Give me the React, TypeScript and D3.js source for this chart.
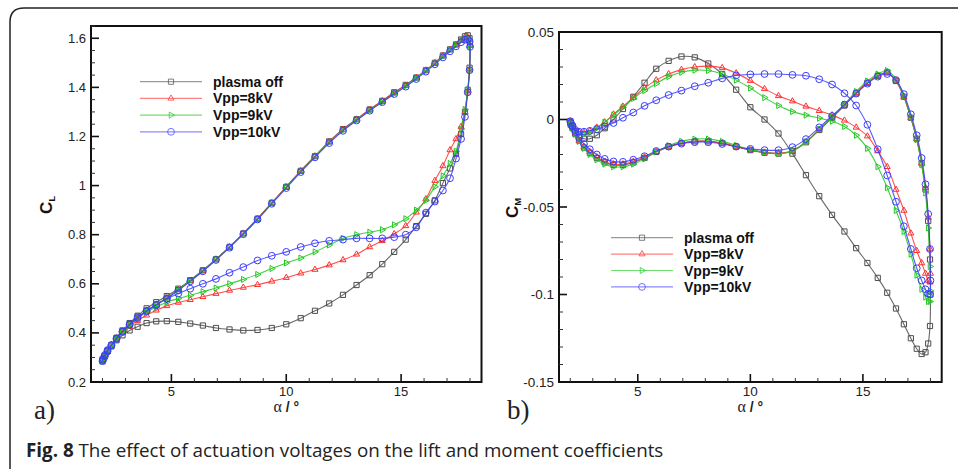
import React from "react";
import * as d3 from "d3";

// ---------- data ----------
const ALPHA_UP = [2.00, 2.02, 2.10, 2.22, 2.39, 2.61, 2.87, 3.18, 3.53, 3.92, 4.34, 4.80, 5.30, 5.82, 6.37, 6.94, 7.53, 8.13, 8.75, 9.37, 10.00, 10.63, 11.25, 11.87, 12.47, 13.06, 13.63, 14.18, 14.70, 15.20, 15.66, 16.08, 16.47, 16.82, 17.13, 17.39, 17.61, 17.78, 17.90, 17.98, 18.00];
const ALPHA_DOWN = [17.98, 17.90, 17.78, 17.61, 17.39, 17.13, 16.82, 16.47, 16.08, 15.66, 15.20, 14.70, 14.18, 13.63, 13.06, 12.47, 11.87, 11.25, 10.63, 10.00, 9.37, 8.75, 8.13, 7.53, 6.94, 6.37, 5.82, 5.30, 4.80, 4.34, 3.92, 3.53, 3.18, 2.87, 2.61, 2.39, 2.22, 2.10, 2.02];

// Lift coefficient
const CL_UP_OFF = [0.285, 0.29, 0.305, 0.325, 0.35, 0.38, 0.41, 0.44, 0.47, 0.50, 0.525, 0.55, 0.58, 0.615, 0.655, 0.70, 0.75, 0.805, 0.865, 0.93, 0.995, 1.06, 1.12, 1.18, 1.23, 1.27, 1.31, 1.345, 1.38, 1.41, 1.44, 1.47, 1.50, 1.53, 1.555, 1.575, 1.595, 1.608, 1.612, 1.60, 1.575];
const CL_DOWN_OFF = [1.48, 1.39, 1.30, 1.21, 1.13, 1.07, 1.01, 0.94, 0.885, 0.835, 0.78, 0.73, 0.68, 0.635, 0.595, 0.555, 0.52, 0.49, 0.46, 0.435, 0.42, 0.412, 0.41, 0.414, 0.42, 0.43, 0.438, 0.445, 0.448, 0.447, 0.44, 0.425, 0.41, 0.39, 0.37, 0.345, 0.325, 0.305, 0.29];
const CL_UP_8 = [0.285, 0.29, 0.305, 0.325, 0.35, 0.378, 0.405, 0.435, 0.462, 0.49, 0.515, 0.542, 0.575, 0.612, 0.653, 0.70, 0.75, 0.805, 0.866, 0.93, 0.995, 1.06, 1.12, 1.178, 1.228, 1.27, 1.31, 1.345, 1.378, 1.408, 1.44, 1.47, 1.50, 1.528, 1.553, 1.573, 1.59, 1.602, 1.605, 1.595, 1.57];
const CL_DOWN_8 = [1.47, 1.38, 1.30, 1.24, 1.19, 1.145, 1.08, 1.02, 0.945, 0.891, 0.836, 0.803, 0.775, 0.75, 0.72, 0.697, 0.676, 0.658, 0.643, 0.625, 0.61, 0.596, 0.585, 0.573, 0.56, 0.547, 0.535, 0.524, 0.51, 0.492, 0.472, 0.45, 0.425, 0.40, 0.375, 0.35, 0.33, 0.31, 0.295];
const CL_UP_9 = [0.285, 0.29, 0.305, 0.325, 0.35, 0.378, 0.405, 0.435, 0.462, 0.49, 0.515, 0.543, 0.576, 0.613, 0.654, 0.70, 0.75, 0.804, 0.864, 0.928, 0.993, 1.058, 1.118, 1.176, 1.225, 1.267, 1.306, 1.34, 1.374, 1.405, 1.437, 1.468, 1.498, 1.527, 1.552, 1.572, 1.59, 1.60, 1.603, 1.594, 1.57];
const CL_DOWN_9 = [1.47, 1.39, 1.31, 1.23, 1.14, 1.09, 1.04, 0.995, 0.94, 0.90, 0.865, 0.84, 0.82, 0.81, 0.80, 0.785, 0.758, 0.73, 0.705, 0.685, 0.662, 0.638, 0.618, 0.60, 0.583, 0.568, 0.553, 0.54, 0.525, 0.505, 0.485, 0.46, 0.43, 0.405, 0.375, 0.35, 0.33, 0.31, 0.295];
const CL_UP_10 = [0.285, 0.29, 0.305, 0.325, 0.35, 0.378, 0.405, 0.433, 0.46, 0.488, 0.513, 0.54, 0.573, 0.61, 0.651, 0.697, 0.747, 0.802, 0.862, 0.926, 0.99, 1.055, 1.115, 1.173, 1.223, 1.265, 1.305, 1.34, 1.373, 1.403, 1.434, 1.464, 1.494, 1.522, 1.547, 1.567, 1.584, 1.594, 1.597, 1.588, 1.565];
const CL_DOWN_10 = [1.47, 1.38, 1.28, 1.19, 1.11, 1.03, 0.98, 0.935, 0.89, 0.83, 0.80, 0.79, 0.785, 0.785, 0.785, 0.78, 0.775, 0.765, 0.75, 0.73, 0.714, 0.695, 0.668, 0.645, 0.62, 0.60, 0.58, 0.56, 0.538, 0.515, 0.49, 0.465, 0.435, 0.405, 0.375, 0.35, 0.33, 0.31, 0.295];

// Moment coefficient
const CM_UP_OFF = [-0.001, -0.002, -0.004, -0.008, -0.012, -0.016, -0.019, -0.022, -0.0245, -0.026, -0.026, -0.0245, -0.022, -0.0185, -0.0155, -0.0135, -0.0125, -0.0125, -0.0135, -0.0155, -0.0175, -0.019, -0.0195, -0.018, -0.013, -0.006, 0.001, 0.008, 0.015, 0.021, 0.025, 0.027, 0.022, 0.013, 0.001, -0.011, -0.025, -0.040, -0.058, -0.080, -0.100];
const CM_DOWN_OFF = [-0.118, -0.128, -0.133, -0.134, -0.131, -0.125, -0.117, -0.108, -0.099, -0.0905, -0.082, -0.0735, -0.064, -0.0545, -0.0438, -0.0318, -0.0195, -0.008, 0.0, 0.007, 0.017, 0.026, 0.032, 0.0355, 0.036, 0.0335, 0.029, 0.021, 0.013, 0.006, 0.0, -0.005, -0.009, -0.011, -0.011, -0.010, -0.008, -0.005, -0.003];
const CM_UP_8 = [-0.001, -0.002, -0.004, -0.008, -0.012, -0.0155, -0.0185, -0.0215, -0.024, -0.0255, -0.0255, -0.024, -0.0215, -0.0185, -0.0155, -0.0135, -0.0125, -0.0125, -0.0135, -0.0155, -0.0175, -0.0188, -0.0192, -0.0178, -0.0128, -0.0058, 0.0012, 0.0082, 0.0152, 0.021, 0.025, 0.0265, 0.022, 0.013, 0.001, -0.011, -0.025, -0.039, -0.056, -0.074, -0.088];
const CM_DOWN_8 = [-0.093, -0.092, -0.088, -0.082, -0.075, -0.065, -0.052, -0.040, -0.027, -0.018, -0.0095, -0.0045, -0.0005, 0.0025, 0.005, 0.0075, 0.0105, 0.0135, 0.0175, 0.0222, 0.0265, 0.0295, 0.0305, 0.030, 0.0285, 0.026, 0.0225, 0.018, 0.0125, 0.0075, 0.003, -0.0015, -0.0045, -0.0065, -0.0075, -0.007, -0.006, -0.004, -0.002];
const CM_UP_9 = [-0.001, -0.002, -0.0045, -0.0085, -0.0125, -0.0165, -0.02, -0.023, -0.0255, -0.027, -0.027, -0.0255, -0.0225, -0.0185, -0.015, -0.0125, -0.0112, -0.0112, -0.0125, -0.0148, -0.0172, -0.0188, -0.0195, -0.018, -0.0128, -0.0055, 0.0015, 0.0088, 0.016, 0.022, 0.026, 0.028, 0.023, 0.0135, 0.0015, -0.0115, -0.026, -0.042, -0.062, -0.084, -0.098];
const CM_DOWN_9 = [-0.104, -0.104, -0.1015, -0.097, -0.089, -0.077, -0.064, -0.052, -0.039, -0.027, -0.0165, -0.009, -0.004, -0.001, 0.0008, 0.0025, 0.0045, 0.008, 0.0125, 0.018, 0.0225, 0.026, 0.028, 0.0282, 0.027, 0.0245, 0.0205, 0.0165, 0.012, 0.007, 0.0025, -0.0015, -0.005, -0.0075, -0.0085, -0.008, -0.0065, -0.0045, -0.0025];
const CM_UP_10 = [-0.001, -0.002, -0.0035, -0.007, -0.0105, -0.014, -0.017, -0.02, -0.0225, -0.024, -0.0242, -0.023, -0.021, -0.018, -0.0155, -0.0138, -0.013, -0.013, -0.014, -0.0155, -0.0168, -0.0175, -0.0175, -0.0158, -0.0112, -0.0045, 0.002, 0.0085, 0.0148, 0.0205, 0.0245, 0.026, 0.0225, 0.0145, 0.003, -0.009, -0.022, -0.037, -0.054, -0.074, -0.092];
const CM_DOWN_10 = [-0.100, -0.0995, -0.097, -0.092, -0.085, -0.074, -0.061, -0.047, -0.032, -0.017, -0.003, 0.008, 0.015, 0.020, 0.023, 0.025, 0.0255, 0.026, 0.026, 0.0258, 0.0252, 0.0235, 0.021, 0.019, 0.0165, 0.014, 0.011, 0.0078, 0.004, 0.001, -0.002, -0.004, -0.0055, -0.0065, -0.007, -0.007, -0.006, -0.004, -0.002];

const SERIES_NAMES = ["plasma off", "Vpp=8kV", "Vpp=9kV", "Vpp=10kV"];
const SERIES_COLORS = ["#4d4d4d", "#ff3030", "#20c820", "#3c3cff"];
const LEGEND_LINE_COLORS = ["#9a9a9a", "#ff8080", "#70e070", "#8a8aff"];
const SERIES_MARKERS = ["square", "triangleUp", "triangleRight", "circle"];

const CL_UP = [CL_UP_OFF, CL_UP_8, CL_UP_9, CL_UP_10];
const CL_DOWN = [CL_DOWN_OFF, CL_DOWN_8, CL_DOWN_9, CL_DOWN_10];
const CM_UP = [CM_UP_OFF, CM_UP_8, CM_UP_9, CM_UP_10];
const CM_DOWN = [CM_DOWN_OFF, CM_DOWN_8, CM_DOWN_9, CM_DOWN_10];

const X_DOMAIN = [1.5, 18.5];
const X_TICKS = [5, 10, 15];
const X_TICK_LABELS = ["5", "10", "15"];
const CL_DOMAIN = [0.2, 1.65];
const CL_TICKS = [0.2, 0.4, 0.6, 0.8, 1.0, 1.2, 1.4, 1.6];
const CL_TICK_LABELS = ["0.2", "0.4", "0.6", "0.8", "1", "1.2", "1.4", "1.6"];
const CM_DOMAIN = [-0.15, 0.05];
const CM_TICKS = [-0.15, -0.1, -0.05, 0, 0.05];
const CM_TICK_LABELS = ["-0.15", "-0.1", "-0.05", "0", "0.05"];

const CAPTION_BOLD = "Fig. 8";
const CAPTION_TEXT = " The effect of actuation voltages on the lift and moment coefficients";

const SANS = "'Liberation Sans', Arial, sans-serif";

function markerPath(type: string, x: number, y: number): string {
  if (type === "square") {
    const s = 2.6;
    return `M${x - s},${y - s}h${2 * s}v${2 * s}h${-2 * s}Z`;
  }
  if (type === "triangleUp") {
    const r = 3.5;
    return `M${x},${y - r}L${x + r * 0.87},${y + r * 0.5}L${x - r * 0.87},${y + r * 0.5}Z`;
  }
  if (type === "triangleRight") {
    const r = 3.5;
    return `M${x + r},${y}L${x - r * 0.5},${y - r * 0.87}L${x - r * 0.5},${y + r * 0.87}Z`;
  }
  const r = 3.4;
  return `M${x - r},${y}a${r},${r} 0 1,0 ${2 * r},0a${r},${r} 0 1,0 ${-2 * r},0Z`;
}

type PanelProps = {
  left: number; right: number; top: number; bottom: number;
  yDomain: number[]; yTicks: number[]; yTickLabels: string[]; yMinorStep: number;
  up: number[][]; down: number[][];
  legendX: number; legendY: number; legendDy: number;
  yLabelX: number; yLabelY: number; sub: string;
  tag: string; tagX: number; fontTick: number;
};

function Panel(p: PanelProps) {
  const x = d3.scaleLinear().domain(X_DOMAIN).range([p.left, p.right]);
  const y = d3.scaleLinear().domain(p.yDomain).range([p.bottom, p.top]);
  const minorX = d3.range(2, 19, 1).filter((v) => !X_TICKS.includes(v));
  const nMinor = Math.round((p.yDomain[1] - p.yDomain[0]) / p.yMinorStep);
  const minorY = d3.range(0, nMinor + 1).map((i) => p.yDomain[0] + i * p.yMinorStep)
    .filter((v) => v <= p.yDomain[1] + 1e-9 && !p.yTicks.some((t) => Math.abs(t - v) < 1e-6));
  const line = d3.line<[number, number]>()
    .x((d) => x(d[0])).y((d) => y(d[1]))
    .curve(d3.curveCatmullRom.alpha(0.5));

  const seriesPts = p.up.map((u, si) => {
    const pts: [number, number][] = [];
    ALPHA_UP.forEach((a, i) => pts.push([a, u[i]]));
    ALPHA_DOWN.forEach((a, i) => pts.push([a, p.down[si][i]]));
    return pts;
  });

  return (
    <g>
      {seriesPts.map((pts, si) => (
        <g key={si}>
          <path d={line([...pts, pts[0]]) || ""} fill="none" stroke={SERIES_COLORS[si]} strokeWidth={1.1} opacity={0.85} />
          {pts.map((d, i) => (
            <path key={i} d={markerPath(SERIES_MARKERS[si], x(d[0]), y(d[1]))} fill="none"
              stroke={SERIES_COLORS[si]} strokeWidth={1} />
          ))}
        </g>
      ))}
      <rect x={p.left} y={p.top} width={p.right - p.left} height={p.bottom - p.top} fill="none" stroke="#111" strokeWidth={2} />
      {X_TICKS.map((t, i) => (
        <g key={"xt" + i}>
          <line x1={x(t)} x2={x(t)} y1={p.bottom} y2={p.bottom - 8} stroke="#111" strokeWidth={1.6} />
          <text x={x(t)} y={p.bottom + 14} textAnchor="middle" fontFamily={SANS} fontSize={p.fontTick} fill="#222">{X_TICK_LABELS[i]}</text>
        </g>
      ))}
      {minorX.map((t, i) => (
        <line key={"xm" + i} x1={x(t)} x2={x(t)} y1={p.bottom} y2={p.bottom - 4} stroke="#333" strokeWidth={1} />
      ))}
      {p.yTicks.map((t, i) => (
        <g key={"yt" + i}>
          <line x1={p.left} x2={p.left + 8} y1={y(t)} y2={y(t)} stroke="#111" strokeWidth={1.6} />
          <text x={p.left - 5} y={y(t) + 4.5} textAnchor="end" fontFamily={SANS} fontSize={p.fontTick} fill="#222">{p.yTickLabels[i]}</text>
        </g>
      ))}
      {minorY.map((t, i) => (
        <line key={"ym" + i} x1={p.left} x2={p.left + 4} y1={y(t)} y2={y(t)} stroke="#333" strokeWidth={1} />
      ))}
      <text x={(p.left + p.right) / 2} y={p.bottom + 30} textAnchor="middle" fill="#222">
        <tspan fontFamily="'Liberation Serif', serif" fontSize={16}>α</tspan>
        <tspan fontFamily={SANS} fontWeight="bold" fontSize={14}> / °</tspan>
      </text>
      <text transform={`translate(${p.yLabelX},${p.yLabelY}) rotate(-90)`} textAnchor="middle" fontFamily={SANS} fontWeight="bold" fill="#111">
        <tspan fontSize={17}>C</tspan>
        <tspan fontSize={9} dy={3}>{p.sub}</tspan>
      </text>
      <text x={p.tagX} y={419} fontFamily="'Liberation Serif', serif" fontSize={27} fill="#222">{p.tag}</text>
      {SERIES_NAMES.map((name, si) => {
        const ly = p.legendY + si * p.legendDy;
        return (
          <g key={"lg" + si}>
            <line x1={p.legendX} x2={p.legendX + 62} y1={ly} y2={ly} stroke={LEGEND_LINE_COLORS[si]} strokeWidth={1.2} />
            <path d={markerPath(SERIES_MARKERS[si], p.legendX + 31, ly)} fill="none" stroke={SERIES_COLORS[si]} strokeWidth={0.9} opacity={0.8} />
            <text x={p.legendX + 73} y={ly + 5} fontFamily={SANS} fontWeight="bold" fontSize={14} fill="#111">{name}</text>
          </g>
        );
      })}
    </g>
  );
}

export default function App() {
  return (
    <svg width={958} height={469} style={{ position: "absolute", left: 0, top: 0, background: "#fff" }}>
      <rect x={0} y={0} width={958} height={469} fill="#fff" />
      <path d="M10,480 L10,22 Q10,8 24,8 L970,8" fill="none" stroke="#222" strokeWidth={1.5} />
      <Panel left={91} right={481.5} top={26} bottom={382}
        yDomain={CL_DOMAIN} yTicks={CL_TICKS} yTickLabels={CL_TICK_LABELS} yMinorStep={0.05}
        up={CL_UP} down={CL_DOWN}
        legendX={140} legendY={81.7} legendDy={16.7}
        yLabelX={52} yLabelY={205} sub="L" tag="a)" tagX={34} fontTick={13} />
      <Panel left={559} right={941.7} top={32} bottom={382}
        yDomain={CM_DOMAIN} yTicks={CM_TICKS} yTickLabels={CM_TICK_LABELS} yMinorStep={0.01}
        up={CM_UP} down={CM_DOWN}
        legendX={611} legendY={237.7} legendDy={16.4}
        yLabelX={518} yLabelY={208} sub="M" tag="b)" tagX={507} fontTick={13.5} />
      <text x={26} y={457} fontFamily="'Open Sans', sans-serif" fontSize={18.8} fill="#222">
        <tspan fontWeight="bold">{CAPTION_BOLD}</tspan>
        <tspan>{CAPTION_TEXT}</tspan>
      </text>
    </svg>
  );
}
